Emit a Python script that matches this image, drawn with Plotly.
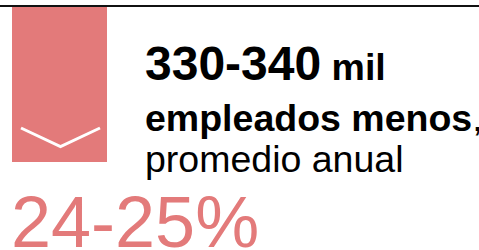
import plotly.graph_objects as go

# ---- content ----
employee_range = ["330-340"]
employee_unit = ["mil"]
employee_label = ["empleados menos"]
employee_note = ["promedio anual"]
share_range = ["24-25%"]

RED = "#E37A7A"
FONT = "Liberation Sans, Arial, sans-serif"
W, H = 479, 250

fig = go.Figure()

fig.update_layout(
    width=W, height=H,
    margin=dict(l=0, r=0, t=0, b=0),
    paper_bgcolor="white", plot_bgcolor="white",
    showlegend=False,
    xaxis=dict(range=[0, W], visible=False, fixedrange=True),
    yaxis=dict(range=[H, 0], visible=False, fixedrange=True),
)

shapes = [
    # top rule
    dict(type="line", xref="x", yref="y", x0=0, x1=W, y0=6, y1=6,
         line=dict(color="#111111", width=2)),
    # red down-marker box
    dict(type="rect", xref="x", yref="y", x0=12, x1=107, y0=7, y1=162,
         fillcolor=RED, line=dict(width=0), layer="below"),
    # chevron
    dict(type="path", xref="x", yref="y",
         path="M 21 128 L 60.5 146.5 L 100 128",
         line=dict(color="white", width=3)),
]
fig.update_layout(shapes=shapes)

LINE_SIZE = 37.5
ann = []
ann.append(dict(
    x=143, y=35, xref="x", yref="y", xanchor="left", yanchor="top",
    text=f"<b>{employee_range[0]}<span style='font-size:{LINE_SIZE}px'> {employee_unit[0]}</span></b>",
    showarrow=False, font=dict(family=FONT, size=48, color="black")))
ann.append(dict(
    x=143, y=94.5, xref="x", yref="y", xanchor="left", yanchor="top",
    text=f"<b>{employee_label[0]}</b>,",
    showarrow=False, font=dict(family=FONT, size=LINE_SIZE, color="black")))
ann.append(dict(
    x=143, y=135.5, xref="x", yref="y", xanchor="left", yanchor="top",
    text=employee_note[0],
    showarrow=False, font=dict(family=FONT, size=LINE_SIZE, color="black")))
ann.append(dict(
    x=9, y=179.5, xref="x", yref="y", xanchor="left", yanchor="top",
    text=share_range[0],
    showarrow=False, font=dict(family=FONT, size=72, color=RED)))
fig.update_layout(annotations=ann)

fig.write_html(
    "out.html",
    config={"displayModeBar": False},
    post_script="document.body.style.margin='0';document.body.style.overflow='hidden';",
)
